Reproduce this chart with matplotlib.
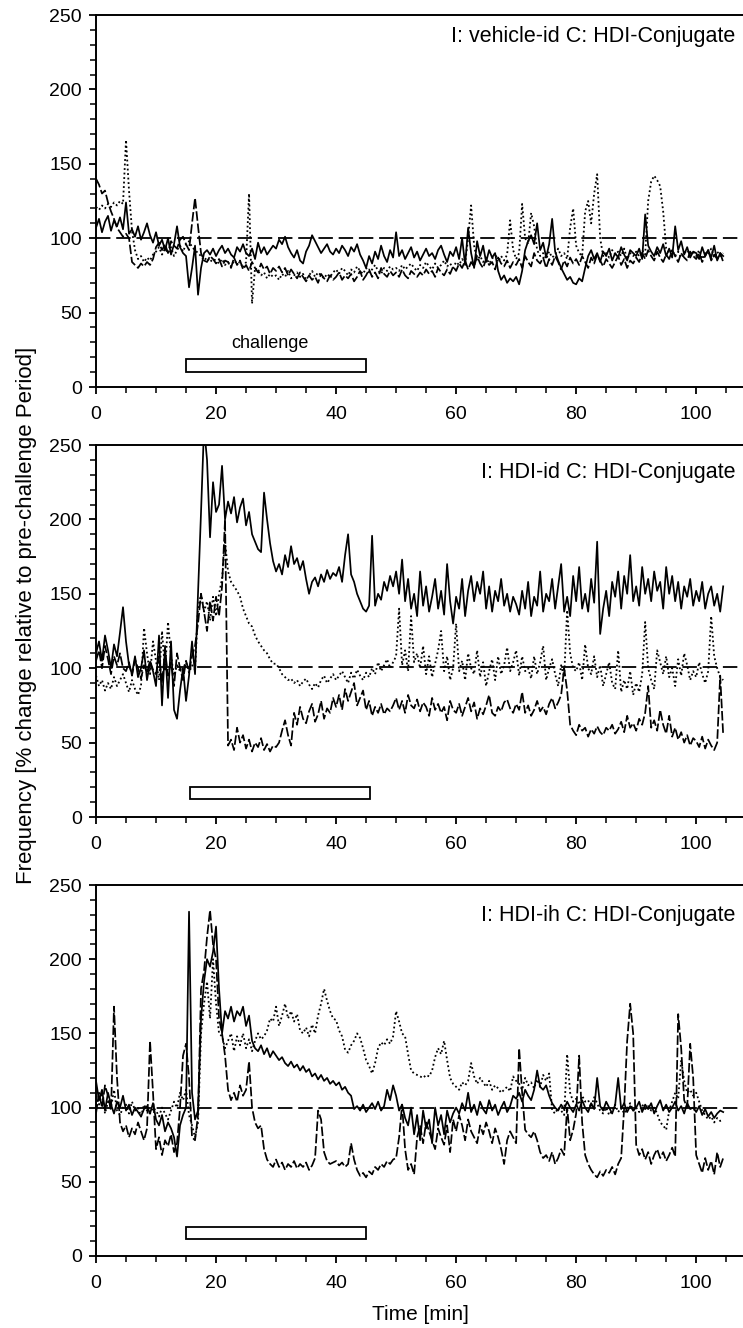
import numpy as np
import matplotlib
matplotlib.use('Agg')
import matplotlib.pyplot as plt
from matplotlib.patches import Rectangle
from matplotlib.ticker import MultipleLocator

plt.rcParams['font.family'] = ['Liberation Sans', 'DejaVu Sans']

# % change, sampled every 0.5 min from 0 to 104.5 min
p1_solid = [
    107, 113, 104, 111, 115, 105, 112, 108, 114, 106, 124, 103, 106, 101, 108, 99, 104, 110, 102, 97,
    104, 95, 99, 92, 100, 89, 96, 108, 94, 90, 88, 67, 80, 95, 62, 80, 90, 92, 89, 93,
    88, 92, 95, 90, 93, 89, 87, 94, 91, 96, 90, 88, 93, 86, 97, 90, 94, 89, 92, 95,
    93, 99, 96, 101, 94, 90, 87, 92, 85, 83, 91, 95, 102, 98, 94, 90, 93, 96, 91, 89,
    93, 90, 95, 92, 88, 94, 91, 96, 89, 85, 80, 88, 83, 91, 86, 95, 88, 84, 92, 87,
    104, 88, 92, 86, 90, 94, 87, 91, 85, 89, 93, 88, 90, 86, 92, 95, 89, 84, 91, 88,
    94, 86, 100, 82, 107, 90, 80, 98, 88, 95, 84, 92, 87, 90, 78, 72, 75, 70, 73, 71,
    74, 69, 78, 92, 98, 102, 96, 110, 92, 97, 87, 96, 113, 91, 85, 80, 76, 72, 74, 70,
    69, 73, 71, 80, 88, 92, 86, 90, 84, 91, 88, 93, 85, 90, 87, 94, 89, 85, 92, 90,
    88, 93, 86, 116, 95, 91, 88, 94, 90, 96, 88, 93, 87, 108, 92, 98, 89, 94, 87, 91,
    90, 86, 94, 88, 92, 87, 95, 85, 90, 88]
p1_dash = [
    140, 136, 130, 132, 124, 118, 113, 107, 104, 101, 103, 100, 84, 82, 80, 83, 81, 84, 82, 86,
    94, 97, 92, 96, 90, 98, 95, 93, 99, 101, 96, 92, 110, 127, 108, 90, 85, 84, 88, 86,
    83, 86, 81, 85, 84, 80, 87, 82, 85, 79, 82, 78, 84, 80, 77, 83, 79, 81, 76, 80,
    78, 81, 77, 80, 75, 79, 76, 73, 77, 74, 71, 75, 72, 74, 70, 76, 73, 71, 75, 72,
    74, 77, 72, 75, 73, 76, 71, 74, 78, 72, 75, 79, 74, 77, 73, 80, 76, 74, 78, 75,
    77, 74, 79, 75, 73, 78, 76, 74, 77, 75, 79, 76, 78, 74, 80, 77, 75, 79, 76, 81,
    78, 83, 80, 85, 79, 84, 81, 88, 83, 80, 86, 82, 84, 79, 87, 83, 81, 85, 80, 84,
    82, 86, 80, 88, 84, 81, 90, 85, 83, 87, 80, 86, 82, 88, 84, 79, 85, 81, 87, 83,
    86, 82, 88, 84, 80, 87, 83, 89, 85, 81, 86, 83, 80, 84, 88, 82, 86, 80, 85, 83,
    87, 84, 90, 86, 92, 88, 85, 91, 87, 84, 89, 86, 92, 88, 84, 90, 87, 85, 91, 88,
    86, 90, 84, 88, 92, 85, 89, 86, 90, 84]
p1_dot = [
    121, 119, 122, 120, 123, 121, 124, 122, 125, 123, 166, 132, 105, 92, 86, 88, 84, 87, 85, 89,
    91, 94, 89, 93, 90, 94, 88, 92, 95, 91, 96, 98, 94, 92, 90, 88, 85, 87, 84, 86,
    85, 83, 86, 82, 84, 81, 85, 83, 84, 80, 84, 130, 56, 80, 78, 75, 77, 73, 76, 74,
    75, 72, 76, 74, 78, 73, 75, 77, 74, 76, 72, 75, 78, 74, 77, 75, 73, 76, 74, 77,
    79, 76, 80, 78, 75, 79, 77, 81, 78, 76, 80, 77, 79, 82, 78, 76, 80, 78, 81, 79,
    80, 78, 82, 79, 81, 83, 80, 78, 82, 80, 84, 81, 79, 83, 80, 82, 85, 81, 83, 80,
    84, 82, 86, 83, 100, 122, 95, 85, 88, 84, 87, 83, 86, 90, 84, 88, 85, 89, 112, 92,
    86, 90, 123, 100, 96, 117, 108, 92, 88, 90, 86, 91, 87, 89, 93, 88, 90, 86, 107, 120,
    95, 90, 88, 118, 125, 110, 130, 143, 100, 88, 90, 87, 92, 89, 91, 88, 93, 86, 90, 88,
    91, 88, 92, 89, 125, 138, 142, 139, 135, 118, 93, 90, 92, 88, 91, 87, 90, 92, 89, 91,
    88, 92, 86, 90, 89, 93, 87, 91, 88, 90]

p2_solid = [
    110, 118, 105, 122, 112, 100, 116, 108, 124, 141, 118, 102, 96, 108, 94, 100, 112, 92, 104, 98,
    88, 122, 75, 115, 80, 118, 72, 66, 85, 100, 78, 95, 118, 96, 150, 205, 262, 240, 188, 225,
    205, 210, 236, 200, 212, 204, 215, 198, 208, 214, 196, 205, 190, 185, 180, 178, 218, 200, 184, 172,
    165, 170, 163, 176, 168, 182, 170, 174, 166, 172, 160, 150, 158, 161, 155, 163, 158, 166, 160, 164,
    162, 168, 158, 176, 190, 163, 158, 150, 145, 140, 138, 142, 189, 142, 150, 146, 158, 152, 162, 155,
    165, 150, 173, 145, 160, 140, 150, 135, 165, 142, 155, 138, 148, 160, 140, 152, 136, 170, 145, 130,
    148, 140, 160, 135, 152, 162, 145, 158, 150, 165, 140, 155, 138, 152, 145, 160, 142, 150, 138, 148,
    143, 136, 152, 140, 158, 135, 148, 142, 165, 138, 150, 145, 160, 140, 155, 170, 138, 148, 135, 162,
    145, 168, 140, 150, 138, 160, 144, 185, 123, 140, 152, 135, 158, 148, 165, 140, 162, 150, 176, 145,
    155, 142, 168, 150, 160, 145, 165, 152, 158, 140, 168, 150, 162, 145, 158, 140, 155, 148, 160, 142,
    152, 145, 158, 140, 150, 155, 142, 150, 138, 155]
p2_dash = [
    105, 112, 100, 115, 106, 96, 108, 102, 110, 100, 98, 104, 95, 106, 100, 93, 102, 97, 105, 99,
    96, 108, 90, 112, 95, 104, 88, 110, 100, 92, 105, 98, 108, 115, 130, 150, 138, 125, 145, 132,
    148, 135, 155, 200, 48, 52, 45, 60, 50, 55, 46, 52, 44, 50, 47, 53, 45, 49, 44, 48,
    47, 50, 58, 65, 55, 48, 70, 62, 74, 66, 63, 71, 76, 64, 69, 78, 66, 73, 70, 80,
    74, 82, 72, 86, 78, 84, 90, 75, 80, 85, 72, 78, 68, 74, 70, 76, 69, 73, 71, 75,
    80, 72, 78, 70, 82, 75, 73, 79, 71, 77, 74, 68, 80, 72, 76, 70, 74, 65, 78, 72,
    70, 76, 68, 74, 80, 71, 77, 66, 73, 69, 75, 82, 70, 68, 74, 71, 77, 79, 73, 70,
    76, 72, 84, 70, 75, 68, 72, 78, 71, 74, 69, 76, 80, 73, 77, 82, 100, 85, 62, 58,
    55, 62, 58, 60, 54, 59, 56, 61, 57, 55, 60, 58, 62, 56, 59, 64, 57, 68, 60, 63,
    58, 66, 62, 70, 88, 60, 65, 58, 72, 62, 56, 68, 54, 60, 52, 57, 50, 55, 48, 53,
    51, 47, 54, 46, 52, 48, 45, 50, 95, 55]
p2_dot = [
    95, 88, 92, 85, 90, 86, 94, 88, 92, 96, 90, 84, 92, 86, 82, 88, 127, 110, 96, 118,
    105, 92, 125, 98, 131, 108, 95, 102, 98, 100, 104, 97, 102, 99, 140, 150, 138, 145, 132, 148,
    135, 150, 160, 185, 165, 158, 155, 152, 148, 140, 135, 130, 128, 122, 118, 115, 112, 110, 106, 103,
    103, 100, 96, 94, 92, 93, 90, 92, 88, 91, 93, 89, 86, 90, 87, 92, 95, 90, 93, 96,
    92, 95, 98, 94, 90, 97, 93, 99, 95, 92, 97, 94, 100, 96, 104, 98, 102, 106, 100, 104,
    108, 140, 102, 112, 98, 135, 104, 110, 100, 115, 96, 108, 94, 103, 112, 125, 98, 108, 92, 100,
    130, 98, 105, 92, 110, 100, 96, 112, 94, 104, 88, 98, 106, 92, 108, 96, 102, 114, 98, 104,
    112, 95, 108, 98, 100, 93, 108, 96, 104, 115, 92, 100, 106, 96, 88, 102, 94, 139, 110, 100,
    98, 104, 92, 116, 100, 96, 108, 94, 102, 88, 96, 104, 90, 86, 112, 84, 92, 86, 98, 82,
    90, 84, 96, 131, 100, 92, 86, 112, 104, 96, 108, 94, 100, 88, 106, 95, 110, 102, 92, 98,
    94, 104, 96, 90, 98, 135, 108, 100, 94, 92]

p3_solid = [
    118, 105, 112, 98, 110, 102, 96, 104, 100, 108, 98, 102, 95, 100, 97, 94, 99, 101, 96, 103,
    92, 88, 95, 84, 90, 86, 80, 67, 88, 95, 100, 232, 110, 92, 98, 160, 185, 200, 195, 205,
    222, 180, 150, 165, 160, 168, 158, 165, 162, 168, 155, 162, 145, 140, 138, 142, 136, 140, 134, 138,
    135, 132, 134, 130, 128, 131, 127, 129, 125, 128, 124, 126, 121, 123, 119, 122, 118, 120, 116, 118,
    115, 117, 112, 114, 110, 108, 99, 101, 98, 102, 97, 100, 103, 99, 104, 98, 101, 112, 105, 115,
    108, 98, 102, 93, 88, 100, 82, 95, 78, 98, 86, 92, 76, 100, 88, 95, 82, 98, 90, 96,
    100, 96, 103, 98, 110, 97, 102, 95, 104, 99, 96, 105, 98, 102, 95, 100, 104, 97, 101, 108,
    106, 110, 104, 112, 108, 105, 112, 125, 114, 112, 115, 108, 103, 100, 98, 102, 99, 104, 100, 97,
    102, 98, 105, 100, 97, 103, 99, 120, 101, 98, 104, 100, 96, 102, 120, 99, 103, 97, 101, 98,
    100, 104, 97, 102, 99, 103, 96, 101, 105, 98, 102, 97, 100, 104, 98, 101, 96, 103, 99, 100,
    97, 101, 95, 99, 94, 97, 93, 96, 98, 97]
p3_dash = [
    96, 110, 100, 115, 108, 98, 168, 120, 90, 84, 88, 80, 86, 82, 90, 84, 78, 86, 145, 110,
    72, 80, 68, 78, 74, 82, 70, 76, 100, 135, 143, 120, 80, 78, 95, 180, 192, 215, 233, 210,
    200, 160, 150, 135, 112, 105, 110, 104, 115, 108, 112, 131, 100, 90, 86, 88, 72, 65, 62, 60,
    65, 60, 63, 58, 62, 60, 64, 59, 62, 60, 63, 58, 61, 66, 98, 92, 70, 64, 62, 63,
    64, 61, 63, 60, 62, 76, 65, 58, 54, 56, 53, 57, 55, 60, 58, 62, 60, 64, 62, 65,
    66, 80, 102, 72, 58, 62, 55, 80, 88, 76, 90, 84, 78, 72, 86, 80, 75, 88, 70, 92,
    84, 95, 88, 78, 92, 84, 80, 76, 88, 82, 90, 84, 76, 86, 80, 72, 62, 78, 84, 80,
    76, 140, 110, 85, 82, 80, 84, 78, 70, 66, 68, 64, 70, 62, 66, 72, 68, 100, 78, 85,
    96, 135, 90, 68, 62, 58, 55, 53, 57, 54, 58, 56, 60, 55, 62, 66, 100, 145, 170, 150,
    75, 68, 72, 65, 70, 62, 68, 72, 66, 70, 64, 68, 73, 67, 163, 140, 105, 100, 143, 120,
    68, 62, 56, 66, 58, 64, 55, 70, 60, 66]
p3_dot = [
    108, 102, 110, 96, 104, 100, 112, 98, 95, 100, 102, 96, 104, 98, 100, 94, 102, 98, 96, 100,
    98, 94, 100, 96, 92, 98, 104, 100, 110, 105, 112, 95, 88, 80, 90, 150, 170, 185, 160, 200,
    170, 150, 148, 140, 145, 150, 138, 148, 142, 150, 140, 146, 138, 145, 150, 146, 148, 152, 160, 158,
    168, 155, 162, 170, 160, 165, 158, 163, 152, 150, 154, 148, 156, 150, 162, 170, 180, 172, 165, 160,
    159, 152, 148, 139, 137, 142, 145, 150, 147, 140, 132, 128, 123, 130, 140, 144, 142, 146, 143, 148,
    165, 158, 150, 148, 136, 125, 123, 122, 121, 120, 122, 121, 125, 134, 140, 136, 145, 132, 120, 116,
    114, 112, 117, 115, 118, 130, 121, 116, 120, 117, 114, 118, 112, 115, 113, 110, 112, 114, 111, 121,
    118, 116, 112, 120, 115, 117, 113, 119, 114, 122, 118, 123, 98, 96, 100, 98, 95, 136, 110, 104,
    106, 102, 108, 104, 105, 100, 107, 103, 98, 96, 100, 95, 98, 102, 97, 100, 96, 99, 103, 98,
    100, 97, 102, 99, 101, 98, 100, 96, 90, 88, 85, 98, 104, 110, 106, 132, 118, 110, 112, 108,
    110, 104, 98, 95, 92, 94, 90, 93, 91, 92]

time = np.arange(0, 105, 0.5)

titles = ['I: vehicle-id C: HDI-Conjugate', 'I: HDI-id C: HDI-Conjugate', 'I: HDI-ih C: HDI-Conjugate']
challenge_start = [15, 15.7, 15]
challenge_box = [(10, 19), (12, 20), (11.5, 19.5)]
series = [(p1_solid, p1_dash, p1_dot), (p2_solid, p2_dash, p2_dot), (p3_solid, p3_dash, p3_dot)]

fig = plt.figure(figsize=(7.43, 13.28), dpi=100)

# axes placement in pixels (top, bottom) of each panel
rows = [(15, 387), (445, 817), (885, 1256)]
title_y = [0.941, 0.927, 0.919]
W, H = 743.0, 1328.0
left = 96 / W

for i in range(3):
    top, bot = rows[i]
    ax = fig.add_axes([left, 1 - bot / H, 1 - left, (bot - top) / H])
    s, d, o = series[i]
    for arr in (s, d, o):
        assert len(arr) == len(time), (i, len(arr))
    ax.plot(time, o, color='black', lw=1.3, linestyle=(0, (1, 1.5)))
    ax.plot(time, d, color='black', lw=1.25, linestyle=(0, (5.5, 1.6)))
    ax.plot(time, s, color='black', lw=1.25)
    ax.axhline(101 if i == 1 else 100, color='black', lw=1.3, linestyle=(0, (8, 3.2)))

    lo, hi = challenge_box[i]
    x0 = challenge_start[i]
    ax.add_patch(Rectangle((x0, lo), 30, hi - lo, facecolor='white', edgecolor='black', lw=1.3))
    if i == 0:
        ax.text(x0 + 14, 29.5, 'challenge', ha='center', va='center', fontsize=13)

    ax.text(0.988, title_y[i], titles[i], transform=ax.transAxes, ha='right', va='center', fontsize=15.5)

    ax.set_xlim(0, 107.8)
    ax.set_ylim(0, 250)
    ax.xaxis.set_major_locator(MultipleLocator(20))
    ax.xaxis.set_minor_locator(MultipleLocator(5))
    ax.yaxis.set_major_locator(MultipleLocator(50))
    ax.yaxis.set_minor_locator(MultipleLocator(10))
    ax.spines['right'].set_visible(False)
    for sp in ('left', 'bottom', 'top'):
        ax.spines[sp].set_linewidth(1.4)
    ax.tick_params(which='major', direction='out', length=5, width=1.3, labelsize=14)
    ax.tick_params(axis='x', which='major', pad=9)
    ax.tick_params(axis='y', which='major', pad=5)
    ax.tick_params(which='minor', direction='out', length=4, width=1.1)
    ax.tick_params(top=False, right=False, which='both')

fig.text(27 / W, 1 - 615 / H, 'Frequency [% change relative to pre-challenge Period]',
         rotation=90, ha='center', va='center', fontsize=16)
fig.text(420 / W, 1 - 1315 / H, 'Time [min]', ha='center', va='center', fontsize=15)

fig.savefig('out.png', dpi=100)
